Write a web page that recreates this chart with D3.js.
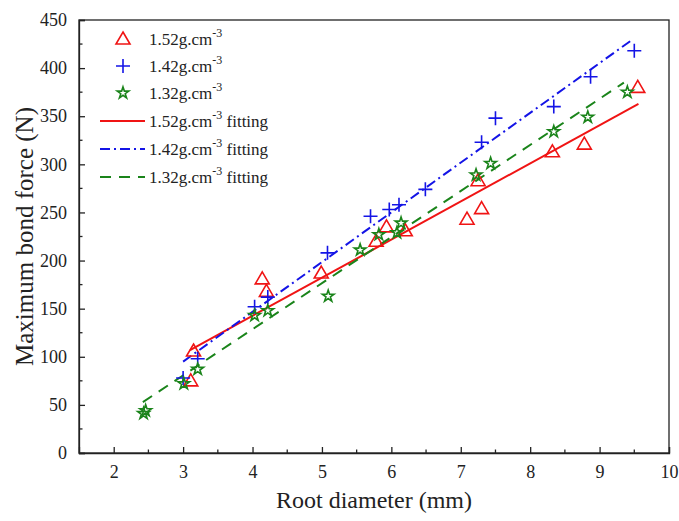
<!DOCTYPE html>
<html>
<head>
<meta charset="utf-8">
<script src="https://cdn.jsdelivr.net/npm/d3@7"></script>
<style>
  body { margin: 0; background: #fff; }
  text { font-family: "Liberation Serif", "DejaVu Serif", serif; fill: #222; }
</style>
</head>
<body>
<svg id="chart" width="679" height="521"></svg>
<script>
const x152 = [3.11, 3.15, 4.14, 4.2, 4.99, 5.78, 5.93, 6.2, 7.09, 7.3, 7.25, 8.32, 8.78, 9.55];
const y152 = [75, 106, 181, 168, 187, 220, 235, 231, 243, 254, 283, 313, 321, 380];

const x142 = [3.0, 3.21, 4.03, 4.22, 5.08, 5.7, 5.97, 6.11, 6.49, 7.3, 7.5, 8.34, 8.87, 9.5];
const y142 = [78, 98, 152, 162, 208, 246, 253, 258, 274, 323, 348, 360, 391, 418];

const x132 = [2.43, 2.46, 3.01, 3.21, 4.03, 4.22, 5.09, 5.55, 5.82, 6.08, 6.14, 7.22, 7.43, 8.34, 8.83, 9.4];
const y132 = [41, 44, 72, 87, 143, 148, 163, 211, 227, 229, 239, 289, 301, 334, 349, 375];

// linear fits: [slope, intercept, xStart, xEnd]
const fit152 = [39.6, -15.8, 3.1, 9.56];
const fit142 = [51.7, -60.1, 3.0, 9.46];
const fit132 = [47.9, -63.0, 2.42, 9.35];

const xTicks = [2, 3, 4, 5, 6, 7, 8, 9, 10];
const yTicks = [0, 50, 100, 150, 200, 250, 300, 350, 400, 450];

const config = {
    left: 79, right: 669, top: 20, bottom: 453
};

const svg = d3.select('#chart');

const x = d3.scaleLinear().domain([1.5, 10]).range([config.left, config.right]);
const y = d3.scaleLinear().domain([0, 450]).range([config.bottom, config.top]);

const series = [
    { name: '1.52', xs: x152, ys: y152, fit: fit152, color: '#f01414', marker: 'tri', dash: null },
    { name: '1.42', xs: x142, ys: y142, fit: fit142, color: '#1414e6', marker: 'plus', dash: '10,4,2,4' },
    { name: '1.32', xs: x132, ys: y132, fit: fit132, color: '#1a841a', marker: 'star', dash: '11,8' }
];

// frame
svg.append('rect')
    .attr('x', config.left).attr('y', config.top)
    .attr('width', config.right - config.left)
    .attr('height', config.bottom - config.top)
    .attr('fill', 'none').attr('stroke', '#222').attr('stroke-width', 1.3);

// x axis
const xAxis = svg.append('g').attr('transform', `translate(0,${config.bottom})`)
    .call(d3.axisBottom(x).tickValues(xTicks).tickSize(-6).tickPadding(12).tickFormat(d3.format('d')));
xAxis.append('g').selectAll('line')
    .data(d3.range(2.5, 10, 1)).enter().append('line')
    .attr('x1', d => x(d)).attr('x2', d => x(d))
    .attr('y1', 0).attr('y2', -3.5)
    .attr('stroke', '#222').attr('stroke-width', 1.3);

// y axis
const yAxis = svg.append('g').attr('transform', `translate(${config.left},0)`)
    .call(d3.axisLeft(y).tickValues(yTicks).tickSize(-6).tickPadding(12));
yAxis.append('g').selectAll('line')
    .data(d3.range(25, 450, 50)).enter().append('line')
    .attr('y1', d => y(d)).attr('y2', d => y(d))
    .attr('x1', 0).attr('x2', 3.5)
    .attr('stroke', '#222').attr('stroke-width', 1.3);

svg.selectAll('.domain').attr('stroke', '#222').attr('stroke-width', 1.3);
svg.selectAll('.tick line').attr('stroke', '#222').attr('stroke-width', 1.3);
svg.selectAll('.tick text')
    .style('font-family', '"Liberation Serif", serif')
    .style('font-size', '18px').attr('fill', '#222');

// axis titles
svg.append('text')
    .attr('x', (config.left + config.right) / 2).attr('y', 508)
    .attr('text-anchor', 'middle').style('font-size', '24px')
    .text('Root diameter (mm)');
svg.append('text')
    .attr('transform', `translate(33,${(config.top + config.bottom) / 2}) rotate(-90)`)
    .attr('text-anchor', 'middle').style('font-size', '25px')
    .text('Maximum bond force (N)');

// marker drawing
function marker(g, type, color) {
    if (type === 'tri') {
        g.append('path').attr('d', 'M0,-7L7,5L-7,5Z')
            .attr('fill', 'none').attr('stroke', color).attr('stroke-width', 1.6);
    } else if (type === 'plus') {
        g.append('path').attr('d', 'M-7,0H7M0,-7V7')
            .attr('fill', 'none').attr('stroke', color).attr('stroke-width', 1.6);
    } else {
        g.append('path').attr('d', d3.symbol(d3.symbolStar, 42)())
            .attr('fill', 'none').attr('stroke', color).attr('stroke-width', 1.6);
    }
}

const line = d3.line().x(d => x(d[0])).y(d => y(d[1]));

series.forEach(s => {
    const f = s.fit;
    const pts = [[f[2], f[0] * f[2] + f[1]], [f[3], f[0] * f[3] + f[1]]];
    svg.append('path')
        .attr('d', line(pts))
        .attr('fill', 'none')
        .attr('stroke', s.color)
        .attr('stroke-width', 2)
        .attr('stroke-dasharray', s.dash);
});

series.forEach(s => {
    s.xs.forEach((v, i) => {
        const g = svg.append('g').attr('transform', `translate(${x(v)},${y(s.ys[i])})`);
        marker(g, s.marker, s.color);
    });
});

// legend
const legend = svg.append('g');
const rowY = [39, 66, 93, 121, 149, 177];
function legendText(ty, label, suffix) {
    const t = legend.append('text').attr('x', 149).attr('y', ty + 6).style('font-size', '17px');
    t.append('tspan').text(label + 'g.cm');
    t.append('tspan').attr('dy', -8).style('font-size', '12px').text('-3');
    if (suffix) t.append('tspan').attr('dy', 8).text(' ' + suffix);
}
series.forEach((s, i) => {
    const g = legend.append('g').attr('transform', `translate(123,${rowY[i]})`);
    marker(g, s.marker, s.color);
    legendText(rowY[i], s.name);
});
series.forEach((s, i) => {
    const ly = rowY[i + 3];
    legend.append('line')
        .attr('x1', 100).attr('x2', 145).attr('y1', ly).attr('y2', ly)
        .attr('stroke', s.color).attr('stroke-width', 2)
        .attr('stroke-dasharray', s.dash);
    legendText(ly, s.name, 'fitting');
});
</script>
</body>
</html>
